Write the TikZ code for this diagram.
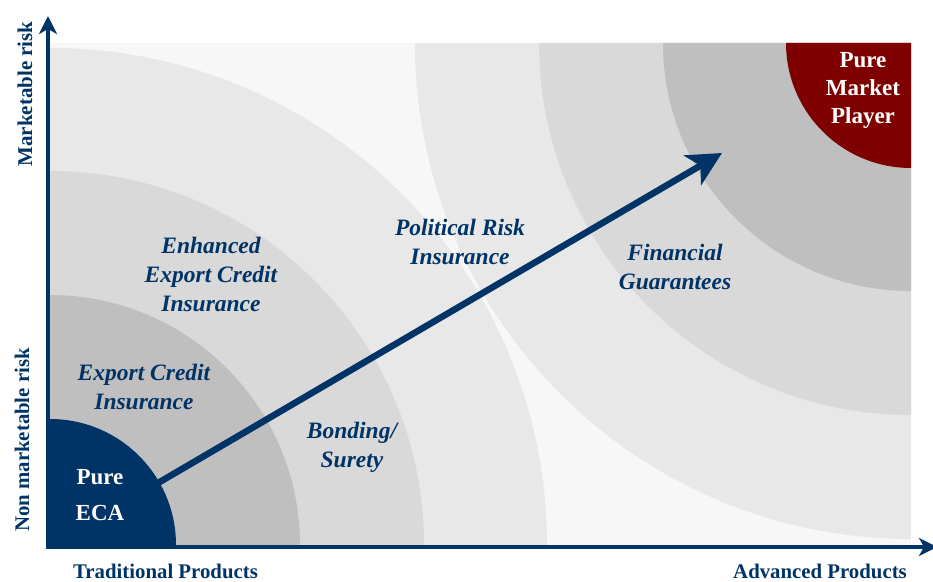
\documentclass[tikz,border=0pt]{standalone}
\usepackage{fontspec}
\setmainfont{Liberation Serif}
\usetikzlibrary{arrows.meta}
\definecolor{navy}{RGB}{0,51,102}
\definecolor{wine}{RGB}{127,0,0}
\definecolor{bgpale}{RGB}{247,247,247}
\definecolor{ringA}{RGB}{232,232,232}
\definecolor{ringB}{RGB}{217,217,217}
\definecolor{ringC}{RGB}{191,191,191}
\tikzset{
  field/.style={font=\fontsize{23.5}{29}\selectfont\bfseries\itshape, text=navy, align=center, inner sep=0pt},
  corner/.style={font=\fontsize{23}{36}\selectfont\bfseries, text=white, align=center, inner sep=0pt},
  axislabel/.style={font=\fontsize{20.8}{24}\selectfont\bfseries, text=navy, inner sep=0pt},
  axisline/.style={draw=navy, line width=3.4pt, -{Stealth[length=18pt,width=18pt,inset=5pt]}},
  trend/.style={draw=navy, line width=6.5pt, -{Stealth[length=34pt,width=34pt,inset=9pt]}},
}
\newcommand{\quarterBL}[2]{\fill[#1] (50,36) -- ++(#2,0) arc[start angle=0,end angle=90,radius=#2pt] -- cycle;}
\newcommand{\quarterTR}[2]{\fill[#1] (911,538) -- ++(-#2,0) arc[start angle=180,end angle=270,radius=#2pt] -- cycle;}
\begin{document}
\begin{tikzpicture}[x=1pt,y=1pt]
\useasboundingbox (0,0) rectangle (933,581);
% plot field
\fill[bgpale] (50,36) rectangle (911,538);
% rings growing from the traditional corner
\quarterBL{ringA}{497}
\quarterBL{ringB}{374}
\quarterBL{ringC}{250}
\quarterBL{navy}{126}
% rings growing from the advanced corner
\quarterTR{ringA}{496}
\quarterTR{ringB}{372}
\quarterTR{ringC}{248}
\quarterTR{wine}{125}

% axes
\coordinate (origin) at (48,32);
\coordinate (ytop) at (48,565);
\coordinate (xstart) at (46,34);
\coordinate (xend) at (937,34);
\draw[axisline] (origin) -- (ytop);
\draw[axisline] (xstart) -- (xend);

% product labels
\node[field] (enh) at (211,307) {Enhanced\\Export Credit\\Insurance};
\node[field] (eci) at (144,194) {Export Credit\\Insurance};
\node[field] (bond) at (352,134) {Bonding/\\Surety};
\node[field] (pri) at (460,339) {Political Risk\\Insurance};
\node[field] (fg) at (675,314) {Financial\\Guarantees};
\node[corner] (eca) at (100,86) {Pure\\ECA};
\node[corner, font=\fontsize{23}{28}\selectfont\bfseries] (pmp) at (863,491) {Pure\\Market\\Player};

% axis labels
\node[axislabel, rotate=90, font=\fontsize{21}{24}\selectfont\bfseries] (mrisk) at (25,487) {Marketable risk};
\node[axislabel, rotate=90] (nmrisk) at (22,141) {Non marketable risk};
\node[axislabel, anchor=base] (trad) at (165.5,3) {Traditional Products};
\node[axislabel, anchor=base] (adv) at (820,3) {Advanced Products};

% development path
\coordinate (pathstart) at (158,98);
\coordinate (pathend) at (722,428);
\draw[trend] (pathstart) -- (pathend);
\end{tikzpicture}
\end{document}
